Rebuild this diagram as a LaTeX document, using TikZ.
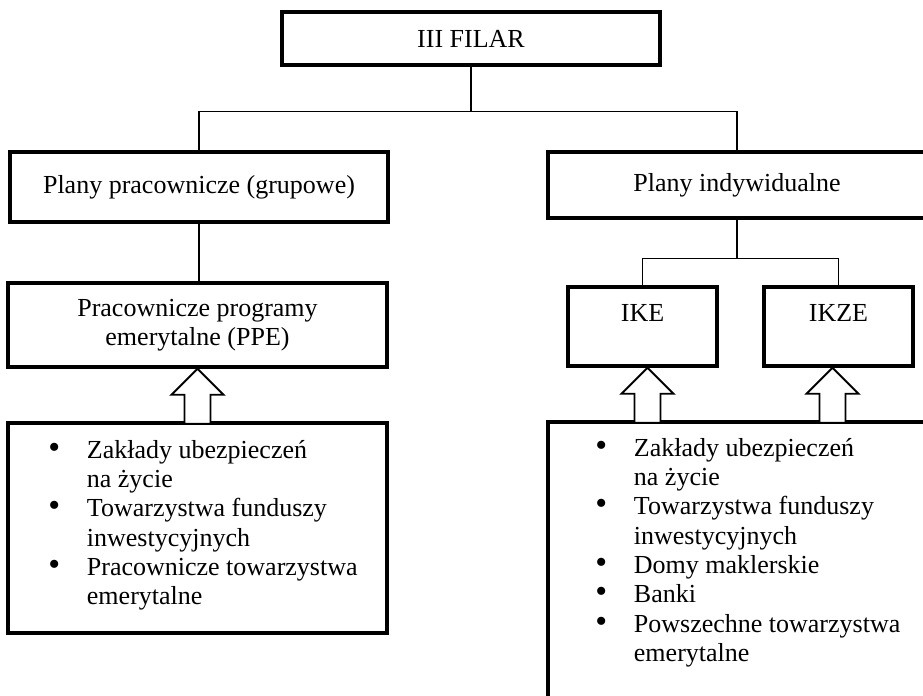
\documentclass[tikz,border=0pt]{standalone}
\usepackage{fontspec}
\setmainfont{Liberation Serif}
\usetikzlibrary{calc}

\newcommand{\punkt}{\scalebox{1.3}{\textbullet}}

\tikzset{
	box/.style={draw, line width=2.6pt, rectangle, inner sep=0pt, align=center},
	conn/.style={line width=1.1pt},
	hollow/.style={line width=1.4pt, fill=white},
	lista/.style={anchor=base west, inner sep=0pt}
}

\begin{document}
\begin{tikzpicture}[x=0.75pt, y=-0.75pt, font=\fontsize{19.5}{22}\selectfont]
	\useasboundingbox (0,0) rectangle (923,695);
	\clip (0,0) rectangle (923,695);

	% Filar
	\node[box, minimum width=283.5pt, minimum height=39.75pt] (filar) at (471,38.5) {III FILAR};

	% Rodzaje planow
	\node[box, minimum width=283.5pt, minimum height=52.5pt] (grupowe) at (199,187) {\raisebox{1pt}{Plany pracownicze (grupowe)}};
	\node[box, minimum width=283.5pt, minimum height=49.5pt] (indyw) at (737,185) {\raisebox{3.5pt}{Plany indywidualne}};

	% Produkty
	\node[box, minimum width=284.25pt, minimum height=63pt] (ppe) at (197.5,325) {Pracownicze programy\\emerytalne (PPE)};
	\node[box, minimum width=111.75pt, minimum height=59.25pt] (ike) at (642.5,326.5) {IKE\\[-8pt] \strut};
	\node[box, minimum width=111.75pt, minimum height=59.25pt] (ikze) at (838.5,326.5) {IKZE\\[-8pt] \strut};

	% Instytucje
	\node[box, minimum width=284.25pt, minimum height=157.5pt] (boxL) at (197.5,528) {};
	\node[box, minimum width=283.5pt, minimum height=268.5pt] (boxR) at (737,601) {};

	\node[lista] (listL) at (48,458) {\begin{tabular}[t]{@{}p{29pt}@{}l@{}}
		\punkt & Zakłady ubezpieczeń\\
		& na życie\\
		\punkt & Towarzystwa funduszy\\
		& inwestycyjnych\\
		\punkt & Pracownicze towarzystwa\\
		& emerytalne
	\end{tabular}};
	\node[lista] (listR) at (595,456) {\begin{tabular}[t]{@{}p{29pt}@{}l@{}}
		\punkt & Zakłady ubezpieczeń\\
		& na życie\\
		\punkt & Towarzystwa funduszy\\
		& inwestycyjnych\\
		\punkt & Domy maklerskie\\
		\punkt & Banki\\
		\punkt & Powszechne towarzystwa\\
		& emerytalne
	\end{tabular}};

	% Polaczenia
	\coordinate (split) at ($(filar.south)+(0,45)$);
	\draw[conn] (filar.south) -- (split);
	\draw[conn] (split) -| (grupowe.north);
	\draw[conn] (split) -| (indyw.north);

	\draw[conn] (grupowe.south) -- (grupowe.south |- ppe.north);

	\coordinate (fork) at ($(indyw.south)+(0,39)$);
	\draw[conn] (indyw.south) -- (fork);
	\draw[conn] (fork) -| (ike.north);
	\draw[conn] (fork) -| (ikze.north);

	% Strzalki
	\foreach \n/\d in {ppe/0, ike/5, ikze/-6} {
		\draw[hollow] ($(\n.south)+(\d,0)$) -- ++(26,26) -- ++(-13,0) -- ++(0,29)
			-- ++(-26,0) -- ++(0,-29) -- ++(-13,0) -- cycle;
	}
\end{tikzpicture}
\end{document}
